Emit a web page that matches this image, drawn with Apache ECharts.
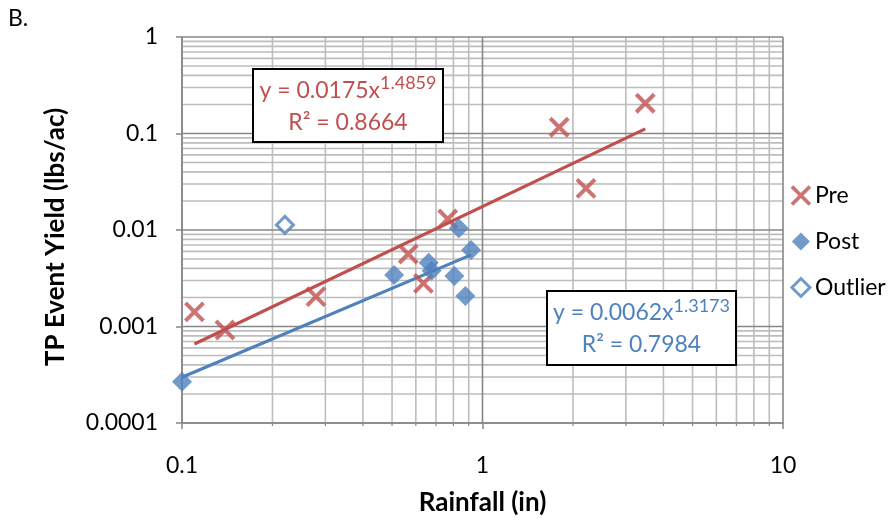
<!DOCTYPE html>
<html>
<head>
<meta charset="utf-8">
<title>TP Event Yield vs Rainfall</title>
<script src="https://cdn.jsdelivr.net/npm/echarts@6/dist/echarts.min.js"></script>
<style>
  html, body { margin: 0; padding: 0; background: #fff; }
  #chart { width: 890px; height: 525px; }
</style>
</head>
<body>
<div id="chart"></div>
<script>
// Rainfall (in) and TP event yield (lbs/ac) per storm event
const preX = [0.11, 0.139, 0.279, 0.566, 0.636, 0.766, 1.80, 2.21, 3.48];
const preY = [0.00142, 0.00092, 0.00204, 0.00564, 0.0028, 0.0130, 0.116, 0.027, 0.206];
const postX = [0.1, 0.508, 0.662, 0.677, 0.806, 0.834, 0.877, 0.916];
const postY = [0.000268, 0.00342, 0.00458, 0.00379, 0.00334, 0.0104, 0.00207, 0.0062];
const outlierX = [0.22];
const outlierY = [0.0113];

// Power-law trendlines y = a * x^b
const preFit = { a: 0.0175, b: 1.4859, r2: '0.8664' };
const postFit = { a: 0.0062, b: 1.3173, r2: '0.7984' };

// Axis ticks
const xTicks = [0.1, 1, 10];
const xTickLabels = ['0.1', '1', '10'];
const yTicks = [0.0001, 0.001, 0.01, 0.1, 1];
const yTickLabels = ['0.0001', '0.001', '0.01', '0.1', '1'];
const minorSteps = [2, 3, 4, 5, 6, 7, 8, 9];

const RED = '#C0504D';
const BLUE = '#4F81BD';
const FONT = 'Lato, "Open Sans", sans-serif';
const X_SYMBOL = 'path://M0,0L10,10M10,0L0,10';

const X_MIN = xTicks[0], X_MAX = xTicks[xTicks.length - 1];
const Y_MIN = yTicks[0], Y_MAX = yTicks[yTicks.length - 1];

function pairs(xs, ys) { return xs.map((x, i) => [x, ys[i]]); }
function fitLine(fit, xs) {
  const lo = Math.min.apply(null, xs), hi = Math.max.apply(null, xs);
  return [lo, hi].map(x => [x, fit.a * Math.pow(x, fit.b)]);
}
function tickLabel(ticks, labels) {
  return function (v) {
    const i = ticks.findIndex(t => Math.abs(Math.log10(t) - Math.log10(v)) < 1e-6);
    return i >= 0 ? labels[i] : '';
  };
}

// Grid rows: [x, y, orientation (0 vertical / 1 horizontal), major flag]
const gridRows = [];
xTicks.slice(0, -1).forEach(d => minorSteps.forEach(m => gridRows.push([d * m, Y_MIN, 0, 0])));
yTicks.slice(0, -1).forEach(d => minorSteps.forEach(m => gridRows.push([X_MIN, d * m, 1, 0])));
xTicks.forEach(v => gridRows.push([v, Y_MIN, 0, 1]));
yTicks.forEach(v => gridRows.push([X_MIN, v, 1, 1]));

function equationBox(left, top, w, h, fit, color) {
  return {
    type: 'group', left: left, top: top, z: 50, children: [
      { type: 'rect', z: 50, shape: { x: 0, y: 0, width: w, height: h },
        style: { fill: '#fff', stroke: '#000', lineWidth: 2 } },
      { type: 'text', z: 51, x: w / 2, y: h / 2 + 1,
        style: {
          text: '{m|y = ' + fit.a + 'x}{s|' + fit.b + '}\n{m|R² = ' + fit.r2 + '}',
          align: 'center', verticalAlign: 'middle',
          rich: {
            m: { fontSize: 23, fontFamily: FONT, fill: color, color: color, lineHeight: 32 },
            s: { fontSize: 18, fontFamily: FONT, fill: color, color: color, lineHeight: 20, verticalAlign: 'top' }
          }
        } }
    ]
  };
}

const chart = echarts.init(document.getElementById('chart'));

const option = {
  backgroundColor: '#fff',
  animation: false,
  textStyle: { fontFamily: FONT },
  grid: { left: 182, right: 107, top: 37, bottom: 102, containLabel: false },
  xAxis: {
    type: 'log', logBase: 10, min: X_MIN, max: X_MAX,
    name: 'Rainfall (in)', nameLocation: 'middle', nameGap: 67,
    nameTextStyle: { fontFamily: FONT, fontSize: 26, fontWeight: 'bold', color: '#000' },
    axisLine: { lineStyle: { color: '#868686', width: 1.5 } },
    axisTick: { show: true, length: 6, lineStyle: { color: '#868686', width: 1.5 } },
    axisLabel: { formatter: tickLabel(xTicks, xTickLabels), fontSize: 23, color: '#000', margin: 31, fontFamily: FONT },
    splitLine: { show: false }
  },
  yAxis: {
    type: 'log', logBase: 10, min: Y_MIN, max: Y_MAX,
    name: 'TP Event Yield (lbs/ac)', nameLocation: 'middle', nameGap: 113, nameRotate: 90,
    nameTextStyle: { fontFamily: FONT, fontSize: 26, fontWeight: 'bold', color: '#000', padding: [0, 14, 0, 0] },
    axisLine: { show: true, lineStyle: { color: '#868686', width: 1.5 } },
    axisTick: { show: true, length: 6, lineStyle: { color: '#868686', width: 1.5 } },
    axisLabel: { formatter: tickLabel(yTicks, yTickLabels), fontSize: 23, color: '#000', margin: 24, fontFamily: FONT },
    splitLine: { show: false }
  },
  legend: {
    orient: 'vertical', left: 790, top: 184, padding: 0,
    itemWidth: 18, itemHeight: 18, itemGap: 23,
    textStyle: { fontSize: 23, color: '#000', fontFamily: FONT, lineHeight: 20 },
    data: [
      { name: 'Pre', itemStyle: { borderWidth: 3.8 } },
      { name: 'Post' },
      { name: 'Outlier', itemStyle: { borderWidth: 3 } }
    ]
  },
  series: [
    {
      name: 'grid', type: 'custom', z: 1, silent: true,
      data: gridRows,
      renderItem: function (params, api) {
        const cs = params.coordSys;
        const orient = api.value(2), major = api.value(3);
        const stroke = major ? '#878787' : '#BDBDBD';
        const children = [];
        if (orient === 0) {
          const p = api.coord([api.value(0), Y_MIN]);
          children.push({ type: 'line', shape: { x1: p[0], y1: cs.y, x2: p[0], y2: cs.y + cs.height },
            style: { stroke: stroke, lineWidth: 1.6 } });
          if (!major) {
            children.push({ type: 'line', shape: { x1: p[0], y1: cs.y + cs.height, x2: p[0], y2: cs.y + cs.height + 3 },
              style: { stroke: '#868686', lineWidth: 1.2 } });
          }
        } else {
          const p = api.coord([X_MIN, api.value(1)]);
          children.push({ type: 'line', shape: { x1: cs.x, y1: p[1], x2: cs.x + cs.width, y2: p[1] },
            style: { stroke: stroke, lineWidth: 1.6 } });
        }
        return { type: 'group', children: children };
      }
    },
    {
      name: 'Pre trend', type: 'line', z: 3, data: fitLine(preFit, preX),
      symbol: 'none', lineStyle: { color: RED, width: 3.2 }, silent: true
    },
    {
      name: 'Post trend', type: 'line', z: 3, data: fitLine(postFit, postX),
      symbol: 'none', lineStyle: { color: BLUE, width: 3.2 }, silent: true
    },
    {
      name: 'Pre', type: 'scatter', z: 4, data: pairs(preX, preY),
      symbol: X_SYMBOL, symbolSize: 18,
      itemStyle: { color: 'rgba(0,0,0,0)', borderColor: RED, borderWidth: 4 }
    },
    {
      name: 'Post', type: 'scatter', z: 5, data: pairs(postX, postY),
      symbol: 'diamond', symbolSize: 20,
      itemStyle: { color: BLUE }
    },
    {
      name: 'Outlier', type: 'scatter', z: 5, data: pairs(outlierX, outlierY),
      symbol: 'diamond', symbolSize: 17,
      itemStyle: { color: '#fff', borderColor: BLUE, borderWidth: 3 }
    }
  ],
  graphic: [
    { type: 'text', left: 8, top: 7, z: 50,
      style: { text: 'B.', fontSize: 23, fontFamily: FONT, fill: '#000' } },
    equationBox(252, 68, 190, 73, preFit, RED),
    equationBox(546, 290, 189, 74, postFit, BLUE)
  ]
};

chart.setOption(option);
</script>
</body>
</html>
